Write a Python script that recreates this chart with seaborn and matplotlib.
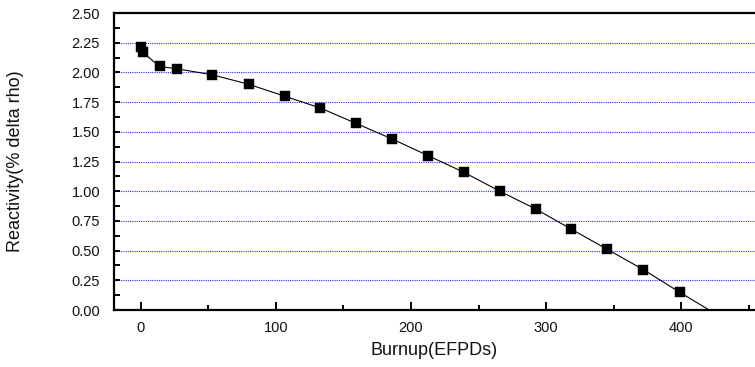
import matplotlib
matplotlib.use("Agg")
import matplotlib.pyplot as plt
from matplotlib.ticker import MultipleLocator, FixedLocator
import seaborn as sns
import pandas as pd

# Data
burnup = [0, 1.5, 14, 27, 53, 80, 106.5, 133, 159.5, 186, 212.5, 239, 265.7, 292.3, 318.7, 345.3, 371.9, 398.7]
reactivity = [2.21, 2.17, 2.05, 2.03, 1.98, 1.90, 1.80, 1.70, 1.57, 1.44, 1.30, 1.16, 1.00, 0.85, 0.68, 0.51, 0.34, 0.15]
# line continues past the last marker down to the x-axis
line_end_x = [420.6]
line_end_y = [0.0]

xlabel = "Burnup(EFPDs)"
ylabel = "Reactivity(% delta rho)"
yticks = [0.00, 0.25, 0.50, 0.75, 1.00, 1.25, 1.50, 1.75, 2.00, 2.25, 2.50]
xticks = [0, 100, 200, 300, 400]

sns.set_style("white")
plt.rcParams['font.family'] = ['Liberation Sans', 'DejaVu Sans']

df = pd.DataFrame({"x": burnup, "y": reactivity})
df_line = pd.DataFrame({"x": burnup + line_end_x, "y": reactivity + line_end_y})

fig = plt.figure(figsize=(7.55, 3.67), dpi=100)
ax = fig.add_axes([114 / 755, 57 / 367, (755 - 114) / 755, 297 / 367])

# grid lines
for yv in yticks[1:-1]:
    ax.axhline(yv, color="#2a2aff", linestyle=(0, (1, 1)), linewidth=0.8, zorder=0)

sns.lineplot(data=df_line, x="x", y="y", ax=ax, color="black", linewidth=0.8,
             sort=False, zorder=2)
sns.scatterplot(data=df, x="x", y="y", ax=ax, marker="s", s=42, color="black",
                edgecolor="black", linewidth=0.3, zorder=3)

ax.set_xlim(-19.7, 454.5)
ax.set_ylim(0, 2.5)
ax.xaxis.set_major_locator(FixedLocator(xticks))
ax.xaxis.set_minor_locator(MultipleLocator(50))
ax.yaxis.set_major_locator(FixedLocator(yticks))
ax.yaxis.set_minor_locator(MultipleLocator(0.125))
ax.set_yticklabels([f"{v:.2f}" for v in yticks])
ax.set_xticklabels([str(v) for v in xticks])

ax.tick_params(axis="both", which="both", direction="in", width=1.4, color="black",
               labelsize=10.5, labelcolor="#111111")
ax.tick_params(axis="x", which="major", length=6, pad=8, bottom=True)
ax.tick_params(axis="x", which="minor", length=3.5, bottom=True)
ax.tick_params(axis="y", which="major", length=4.5, pad=10, left=True)
ax.tick_params(axis="y", which="minor", length=4.5, left=True)

for side in ["left", "bottom", "top"]:
    ax.spines[side].set_visible(True)
    ax.spines[side].set_linewidth(1.6)
    ax.spines[side].set_color("black")
ax.spines["right"].set_visible(False)

ax.set_xlabel(xlabel, fontsize=13, labelpad=5, color="#111111")
ax.set_ylabel(ylabel, fontsize=13, color="#111111")
ax.yaxis.set_label_coords(-0.141, 0.5)

fig.savefig("out.png", dpi=100)
